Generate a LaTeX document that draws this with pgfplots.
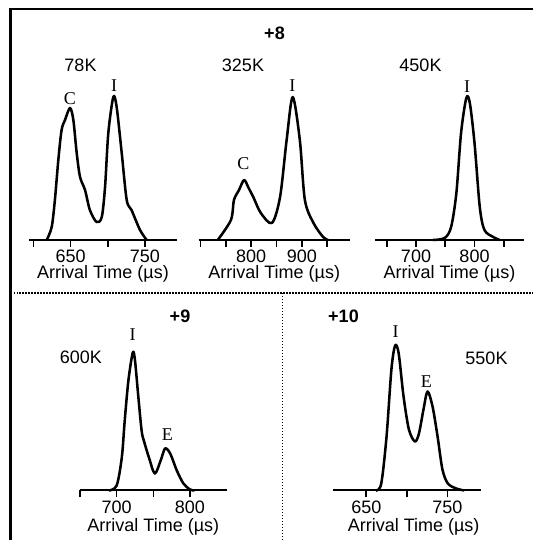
\documentclass[border=0pt]{standalone}
\usepackage{pgfplots}
\pgfplotsset{compat=1.18}
\usepackage{fontspec}
\setmainfont{Liberation Sans}
\newfontfamily\serifl{Liberation Serif}
\newcommand\fs{\fontsize{13.5}{16}\selectfont}
\begin{document}
\begin{tikzpicture}[x=0.75pt,y=0.75pt]
\useasboundingbox (0,0) rectangle (533,540);
\pgfplotsset{
  panel/.style={
    scale only axis, height=120pt,
    axis x line=bottom, axis y line=none,
    ymin=0, ymax=160, ytick=\empty,
    axis line style={-, line width=1.5pt, black},
    tick align=outside, major tick length=5.25pt,
    every tick/.style={black, line width=1.2pt},
    /pgf/number format/assume math mode=true,
    xticklabel style={font=\fs, inner sep=2pt},
    xlabel={Arrival Time (µs)},
    xlabel style={font=\fs, at={(axis description cs:0.5,0)}, anchor=center, yshift=-25.5pt},
    clip=false,
    anchor=south west,
  },
  curve/.style={black, line width=1.9pt, smooth, tension=0.5, line join=round, mark=none},
}
% frame
\draw[line width=1.6pt] (10.5,0) -- (10.5,531) -- (533,531);
\draw[line width=1.1pt, dash pattern=on 1.1pt off 1.15pt] (10.5,247) -- (533,247);
\draw[line width=1.1pt, dash pattern=on 1.1pt off 1.15pt] (282.3,247) -- (282.3,0);

% Panel 1: 78K
\begin{axis}[panel, at={(21.75pt,225pt)}, width=111pt, xmin=594.2, xmax=793.1,
  xtick={600,650,700,750}, xticklabels={,650,,750}]
\addplot[curve] coordinates {
(618,0) (624.7,13) (629,40) (633.6,80) (638,110) (642.6,120) (649.3,132)
(653.8,120) (658.3,87) (662.8,63) (669.5,50) (676,30) (685,18) (692,23)
(696.4,53) (700.8,107) (707.5,143) (712,133) (718.8,87) (725.5,40)
(732,30) (743.4,10) (752.4,0)};
\end{axis}

% Panel 2: 325K
\begin{axis}[panel, at={(148.875pt,225pt)}, width=113.6pt, xmin=696, xmax=995,
  xtick={700,750,800,850,900,950}, xticklabels={,,800,,900,}]
\addplot[curve] coordinates {
(734,0) (760,20) (766,40) (776,50) (786,60) (795,52) (805,42) (819,27) (841,17)
(857,43) (870,100) (882,143) (896,100) (906,40) (923,17) (942,3) (952,0)};
\end{axis}

% Panel 3: 450K
\begin{axis}[panel, at={(281.25pt,225pt)}, width=111.75pt, xmin=629.9, xmax=884.6,
  xtick={650,700,750,800,850}, xticklabels={,700,,800,}]
\addplot[curve] coordinates {
(729,0) (749,2) (760,13) (769,47) (777,107) (786,142) (792,137) (800,97)
(809,33) (817,10) (832,3) (843,0)};
\end{axis}

% Panel 4: 600K
\begin{axis}[panel, at={(60pt,37.125pt)}, width=110pt, xmin=650, xmax=850,
  xtick={650,700,750,800}, xticklabels={,700,,800},
  xlabel style={yshift=-1.9pt}]
\addplot[curve] coordinates {
(689.5,0) (700,5) (707,33) (711,70) (716,110) (722,138) (725,130) (729.5,94)
(734,60) (737,50) (744,33) (752,17) (760,30) (766,42) (773,37) (782,20)
(791,7) (800,1) (806,0)};
\end{axis}

% Panel 5: 550K
\begin{axis}[panel, at={(249.75pt,37.125pt)}, width=111pt, xmin=608.9, xmax=791.6,
  xtick={650,700,750}, xticklabels={650,,750},
  xlabel style={yshift=-1.9pt, xshift=5pt}]
\addplot[curve] coordinates {
(662,0) (668.5,7) (675,54) (681,121) (685.6,145) (690,137) (696,94)
(702.6,61) (710,49) (715,57) (720.6,81) (725.6,99) (731.8,84) (738,54)
(744,21) (750.7,7) (761,2) (771,0)};
\end{axis}

% texts
\node[font=\fs\bfseries] at (274.5,507) {+8};
\node[font=\fs] at (80.5,475) {78K};
\node[font=\fs] at (243,475) {325K};
\node[font=\fs] at (420.5,475) {450K};
\node[font=\fs\serifl] at (70,441.5) {C};
\node[font=\fs\serifl] at (114,454) {I};
\node[font=\fs\serifl] at (243.3,376.7) {C};
\node[font=\fs\serifl] at (292.3,454) {I};
\node[font=\fs\serifl] at (467,453.3) {I};
\node[font=\fs\bfseries] at (180,223.3) {+9};
\node[font=\fs] at (80.8,182.7) {600K};
\node[font=\fs\serifl] at (132.7,205) {I};
\node[font=\fs\serifl] at (167.3,105) {E};
\node[font=\fs\bfseries] at (343.5,223.3) {+10};
\node[font=\fs\serifl] at (395.7,208.3) {I};
\node[font=\fs] at (486.5,181.7) {550K};
\node[font=\fs\serifl] at (426.3,158.3) {E};
\end{tikzpicture}
\end{document}
